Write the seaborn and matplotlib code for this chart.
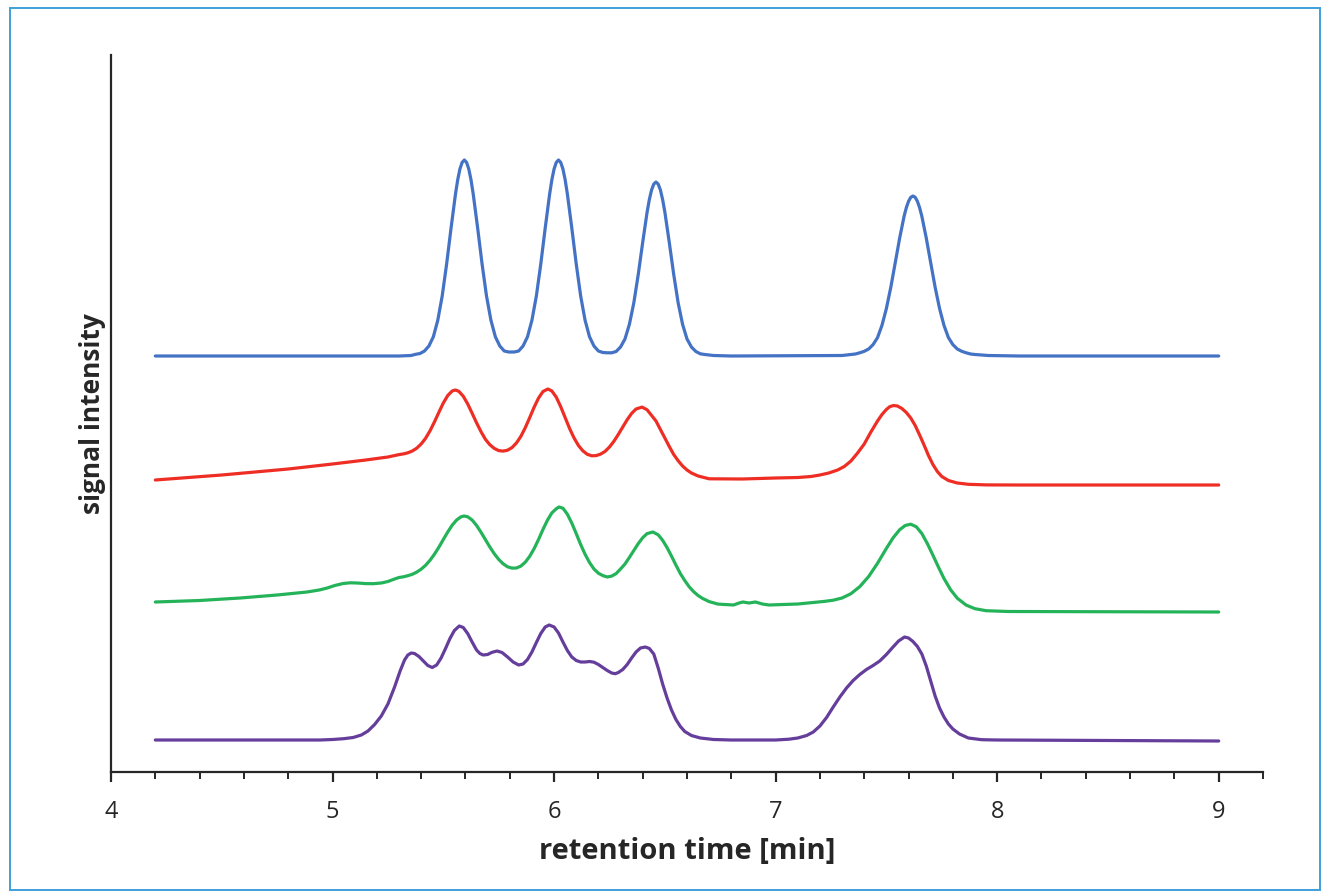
import pandas as pd
import numpy as np
import matplotlib
import matplotlib.pyplot as plt
import seaborn as sns
from matplotlib.patches import Rectangle
from matplotlib.ticker import MultipleLocator
matplotlib.use('Agg')

# chromatogram traces (time in min, signal in plot units)
blue_t = [4.20, 4.60, 5.00, 5.30, 5.355, 5.375, 5.395, 5.415, 5.435, 5.455, 5.475, 5.495, 5.515,
          5.535, 5.555, 5.565, 5.575, 5.585, 5.595, 5.605, 5.615, 5.625, 5.635, 5.655, 5.675,
          5.695, 5.715, 5.735, 5.755, 5.775, 5.795, 5.82, 5.84, 5.86, 5.88, 5.90, 5.92, 5.94,
          5.96, 5.98, 5.99, 6.00, 6.01, 6.02, 6.03, 6.04, 6.05, 6.06, 6.08, 6.10, 6.12, 6.14,
          6.16, 6.18, 6.20, 6.22, 6.24, 6.26, 6.28, 6.30, 6.32, 6.34, 6.36, 6.38, 6.40, 6.42,
          6.43, 6.44, 6.45, 6.46, 6.47, 6.48, 6.49, 6.50, 6.52, 6.54, 6.56, 6.58, 6.60, 6.62,
          6.64, 6.66, 6.68, 6.72, 6.80, 7.30, 7.34, 7.36, 7.38, 7.40, 7.42, 7.44, 7.46, 7.48,
          7.50, 7.52, 7.54, 7.56, 7.58, 7.59, 7.60, 7.61, 7.62, 7.63, 7.64, 7.65, 7.66, 7.68,
          7.70, 7.72, 7.74, 7.76, 7.78, 7.80, 7.82, 7.84, 7.86, 7.88, 7.90, 7.96, 8.10, 9.00]
blue_s = [416, 416, 416, 416, 416.5, 417.7, 418.5, 421, 426, 435.2, 451.7, 476, 508,
          544, 578, 592.2, 603, 609.6, 612, 609.6, 603, 592.2, 578, 544, 508,
          476, 451.7, 435.2, 426, 421, 420, 420, 421, 426, 435.2, 451.7, 476, 508,
          544, 578, 592.2, 603, 609.6, 612, 609.6, 603, 592.2, 578, 544, 508, 476, 451.7,
          435.2, 426, 421, 419.5, 419.2, 419.2, 420.5, 425, 433, 447.7, 469.2, 497.6, 529.6, 560,
          572.4, 582, 587.9, 590, 587.9, 582, 572.4, 560, 529.6, 497.6, 469.2, 447.7, 433, 425,
          420.5, 418.2, 417.5, 416.5, 416, 416.5, 417.5, 418, 419.2, 420.7, 423, 427.4, 434.4, 446.6,
          463.5, 484.8, 509.3, 534, 555.8, 564.3, 570.7, 574.7, 576, 574.7, 570.7, 564.3, 555.8, 534,
          509.3, 484.8, 463.5, 446.6, 434.4, 427.4, 423, 420.7, 419.2, 418, 417.5, 416.5, 416, 416]

red_t = [4.20, 4.50, 4.80, 5.00, 5.15, 5.25, 5.30, 5.32, 5.34, 5.36, 5.38, 5.40, 5.42, 5.44,
         5.46, 5.48, 5.50, 5.52, 5.54, 5.554, 5.57, 5.59, 5.61, 5.63, 5.65, 5.67, 5.69, 5.71,
         5.73, 5.75, 5.77, 5.79, 5.81, 5.83, 5.85, 5.87, 5.89, 5.91, 5.93, 5.95, 5.972, 5.99,
         6.01, 6.03, 6.05, 6.07, 6.09, 6.11, 6.13, 6.15, 6.17, 6.19, 6.21, 6.23, 6.25, 6.27,
         6.29, 6.31, 6.33, 6.35, 6.37, 6.397, 6.42, 6.44, 6.46, 6.48, 6.50, 6.52, 6.54, 6.56,
         6.58, 6.60, 6.62, 6.65, 6.70, 6.85, 7.00, 7.10, 7.16, 7.20, 7.24, 7.28, 7.31, 7.34,
         7.37, 7.40, 7.43, 7.46, 7.48, 7.50, 7.515, 7.532, 7.55, 7.57, 7.59, 7.61, 7.63, 7.65,
         7.67, 7.69, 7.71, 7.73, 7.75, 7.78, 7.82, 7.87, 7.95, 8.10, 9.00]
red_s = [292, 297, 303, 308, 312, 315, 317.4, 318.1, 319.2, 321, 323.8, 328, 333.7, 341.2,
         350.1, 359.7, 369, 376.5, 381, 382, 380.7, 375.8, 368.1, 358.8, 349.2, 340.4, 332.7, 327.3,
         323.6, 321.4, 320.9, 321.8, 324.4, 329, 335.6, 344.3, 354.4, 364.8, 374, 380.5, 383, 381,
         374.8, 365.3, 354.4, 343.5, 334.1, 326.5, 321.1, 317.7, 316.2, 316.4, 317.9, 320.6, 325, 330.7,
         337.6, 345, 352.3, 358.6, 363, 364.9, 362.2, 356.6, 351, 342.5, 334, 325.5, 317.5, 311.3,
         306, 302, 299, 296, 293.2, 293, 294, 294.5, 295.5, 297, 299, 302, 305.5, 311,
         319, 328, 340, 351, 357.5, 362.5, 365.3, 366.5, 366, 363.5, 359.5, 354, 346.5, 337,
         327, 316.5, 307.5, 300.5, 295.5, 291.5, 289, 287.7, 287.1, 287, 287]

green_t = [4.20, 4.40, 4.583, 4.75, 4.885, 4.94, 4.976, 5.01, 5.048, 5.08, 5.111, 5.15, 5.183,
           5.22, 5.25, 5.28, 5.30, 5.32, 5.34, 5.36, 5.38, 5.40, 5.42, 5.44, 5.46, 5.48, 5.50,
           5.52, 5.54, 5.56, 5.58, 5.594, 5.61, 5.63, 5.65, 5.67, 5.69, 5.71, 5.73, 5.75, 5.77,
           5.79, 5.81, 5.83, 5.85, 5.87, 5.89, 5.91, 5.93, 5.95, 5.97, 5.99, 6.01, 6.022, 6.04,
           6.06, 6.08, 6.10, 6.12, 6.14, 6.16, 6.18, 6.20, 6.22, 6.24, 6.26, 6.28, 6.30, 6.32,
           6.34, 6.36, 6.38, 6.40, 6.42, 6.446, 6.47, 6.49, 6.51, 6.53, 6.55, 6.57, 6.59, 6.61,
           6.63, 6.65, 6.67, 6.70, 6.74, 6.81, 6.835, 6.852, 6.88, 6.909, 6.94, 6.97, 7.10, 7.22,
           7.26, 7.30, 7.34, 7.38, 7.42, 7.46, 7.50, 7.53, 7.56, 7.585, 7.61, 7.635, 7.66, 7.685,
           7.71, 7.735, 7.76, 7.79, 7.82, 7.86, 7.90, 7.95, 8.05, 9.00]
green_s = [170, 171.5, 174, 177, 180, 182, 184, 186.5, 188.5, 189.2, 189, 188.4, 188.3,
           189, 190.5, 193, 194.5, 195.2, 196.3, 197.7, 199.9, 202.8, 206.7, 211.7, 217.8, 224.8, 232.5,
           240, 246.8, 252, 255.2, 256, 255.2, 252, 246.6, 239.8, 232.4, 225, 218.3, 212.6, 208.2,
           205.2, 203.9, 204, 205.9, 209.8, 215.7, 223.4, 232.6, 242.6, 251.8, 259.1, 263.3, 265, 263.8,
           257.8, 248.9, 238.4, 227.5, 217.7, 209.5, 203, 198.8, 196.4, 195, 195.9, 198.4, 203, 208,
           214.6, 221.5, 228.4, 234.3, 238.4, 240, 237.2, 231.7, 224.4, 215.9, 206.9, 198.4, 191.4, 185.2,
           180.3, 176.5, 173.6, 170.4, 167.9, 167, 169, 170, 169, 170, 168, 167, 168, 170.6,
           171.8, 174, 178.3, 185.4, 195.5, 208.7, 223.6, 234.1, 242.3, 246.5, 247.8, 245.2, 238.5, 228.4,
           216.8, 204.9, 193.5, 182.2, 173.8, 166.9, 163.3, 161.3, 160.5, 160]

purple_t = [4.20, 4.944, 5.00, 5.05, 5.093, 5.13, 5.16, 5.19, 5.22, 5.25, 5.28, 5.305, 5.325,
            5.34, 5.355, 5.37, 5.39, 5.41, 5.43, 5.45, 5.47, 5.49, 5.51, 5.53, 5.55, 5.572,
            5.59, 5.61, 5.63, 5.65, 5.665, 5.68, 5.70, 5.72, 5.743, 5.765, 5.79, 5.815, 5.84,
            5.86, 5.88, 5.90, 5.92, 5.94, 5.96, 5.978, 6.00, 6.02, 6.04, 6.06, 6.08, 6.10,
            6.12, 6.14, 6.16, 6.18, 6.20, 6.22, 6.24, 6.26, 6.276, 6.29, 6.31, 6.33, 6.35,
            6.37, 6.39, 6.412, 6.43, 6.45, 6.47, 6.49, 6.51, 6.53, 6.55, 6.57, 6.59, 6.62,
            6.66, 6.72, 6.80, 7.00, 7.06, 7.10, 7.14, 7.17, 7.20, 7.23, 7.26, 7.29, 7.32,
            7.35, 7.38, 7.41, 7.44, 7.47, 7.50, 7.53, 7.555, 7.582, 7.60, 7.62, 7.64, 7.66,
            7.68, 7.70, 7.72, 7.74, 7.76, 7.78, 7.80, 7.83, 7.87, 7.93, 8.00, 9.00]
purple_s = [32, 32, 32.5, 33.3, 34.5, 37, 41, 47.5, 56, 68, 85, 101, 112,
            117, 119, 118.5, 115.5, 111, 106.5, 104.5, 107, 114, 123.5, 133.5, 141.5, 146,
            144.5, 138.5, 130, 122, 118.5, 117, 117.5, 119.7, 121, 119.5, 115, 110, 107,
            108, 112.5, 120, 129.5, 138.5, 145, 147, 145, 139, 130, 121.5, 115, 111.5,
            110, 110, 110.5, 109.8, 107.5, 104.5, 101.5, 99, 98.3, 99.5, 102.5, 107.5, 114,
            120, 124, 125, 123.5, 118, 104, 88, 74, 62, 52.5, 45.5, 40.5, 36.5,
            34, 32.5, 32, 32, 32.8, 34, 36.5, 40, 46, 54.5, 65, 75, 84,
            91.5, 97.5, 102.5, 106.5, 111, 117.5, 125, 131, 135, 134, 130.5, 125.5, 118,
            106, 91, 76, 64, 55, 48, 43, 38, 34, 32.3, 32, 31]

traces = [(blue_t, blue_s, '#4472C4'),
          (red_t, red_s, '#EE2E24'),
          (green_t, green_s, '#25B35A'),
          (purple_t, purple_s, '#653E9C')]

sns.set_theme(style='white')
plt.rcParams['font.family'] = ['Open Sans', 'DejaVu Sans']

fig = plt.figure(figsize=(13.22, 8.92), dpi=100)
ax = fig.add_axes([111 / 1322, 120 / 892, 1152 / 1322, 717 / 892])

for t, s, c in traces:
    df = pd.DataFrame({'time': t, 'signal': s})
    sns.lineplot(data=df, x='time', y='signal', color=c, linewidth=2.3,
                 sort=False, estimator=None, ax=ax, solid_joinstyle='round')

ax.set_xlim(4, 9.2)
ax.set_ylim(0, 717)
ax.xaxis.set_major_locator(MultipleLocator(1))
ax.xaxis.set_minor_locator(MultipleLocator(0.2))
ax.set_xticks([4, 5, 6, 7, 8, 9])
ax.set_xticklabels(['4', '5', '6', '7', '8', '9'])
ax.set_yticks([])

for side in ['top', 'right']:
    ax.spines[side].set_visible(False)
for side in ['left', 'bottom']:
    ax.spines[side].set_color('#262626')
    ax.spines[side].set_linewidth(1.6)

ax.tick_params(axis='x', which='major', direction='out', length=7, width=1.6,
               color='#262626', labelsize=17, labelcolor='#262626', pad=13, bottom=True)
ax.tick_params(axis='x', which='minor', direction='out', length=5, width=1.4,
               color='#262626', bottom=True)

ax.set_xlabel('retention time [min]', fontsize=21, fontweight='bold', color='#262626')
ax.set_ylabel('signal intensity', fontsize=19, fontweight='bold', color='#262626')
ax.xaxis.set_label_coords(0.5, -79 / 717)
ax.xaxis.label.set_verticalalignment('center')
ax.yaxis.set_label_coords(-19 / 1152, 0.5)
ax.yaxis.label.set_verticalalignment('center')

fig.patches.append(Rectangle((10 / 1322, 2 / 892), 1310 / 1322, 882 / 892,
                             transform=fig.transFigure, fill=False,
                             edgecolor='#3E9FDC', linewidth=1.4))

fig.savefig('out.png', dpi=100)
